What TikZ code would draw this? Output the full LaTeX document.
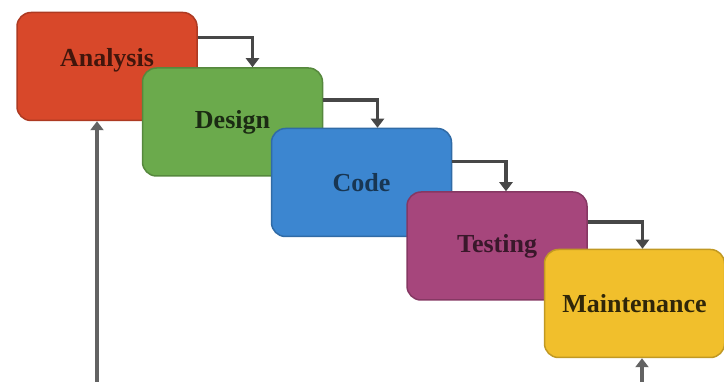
\documentclass[tikz,border=0pt]{standalone}
\usepackage{fontspec}
\setmainfont{Liberation Serif}
\usetikzlibrary{arrows.meta,positioning}
\definecolor{anred}{HTML}{D8482A}
\definecolor{degreen}{HTML}{6BAA4C}
\definecolor{coblue}{HTML}{3C86D0}
\definecolor{tepurple}{HTML}{A6467C}
\definecolor{mayellow}{HTML}{F1BF2C}
\definecolor{flowgray}{HTML}{474747}

\begin{document}
\begin{tikzpicture}[
  x=1pt,y=-1pt,
  stage/.style={rounded corners=14pt,minimum width=180pt,minimum height=108pt,
                line width=1.5pt,inner sep=0pt,
                font=\fontsize{26}{28}\selectfont\bfseries},
  flow/.style={draw=flowgray,line width=3.5pt,-{Triangle[length=9pt,width=13pt]}},
  back/.style={draw=flowgray!85,line width=3.5pt,-{Triangle[length=9pt,width=13pt]}}
]
\useasboundingbox (0,0) rectangle (724,382);

% ---- Stages --------------------------------------------------
\node[stage,fill=anred,draw=anred!80!black,text=anred!30!black,
      text depth=18pt] (analysis) at (107,66.5) {Analysis};
\node[stage,fill=degreen,draw=degreen!80!black,text=degreen!25!black]
  (design) at (232.5,122) {Design};
\node[stage,fill=coblue,draw=coblue!80!black,text=coblue!40!black]
  (code) at (361.5,182.5) {Code};
\node[stage,fill=tepurple,draw=tepurple!80!black,text=tepurple!35!black]
  (testing) at (497,246) {Testing};
\node[stage,fill=mayellow,draw=mayellow!80!black,text=mayellow!20!black]
  (maint) at (634.5,303.5) {Maintenance};

% ---- Step connectors -----------------------------------------
\draw[flow] ([yshift=29pt]analysis.east) -| ([xshift=20pt]design.north);
\draw[flow] ([yshift=22pt]design.east)   -| ([xshift=16pt]code.north);
\draw[flow] ([yshift=21pt]code.east)     -| ([xshift=9pt]testing.north);
\draw[flow] ([yshift=24pt]testing.east)  -| ([xshift=8pt]maint.north);

% ---- Feedback lines from below -------------------------------
\coordinate (fbleft)  at (97,382);
\coordinate (fbright) at (642,382);
\draw[back] (fbleft)  -- (analysis.south -| fbleft);
\draw[back] (fbright) -- (maint.south -| fbright);

\end{tikzpicture}
\end{document}
